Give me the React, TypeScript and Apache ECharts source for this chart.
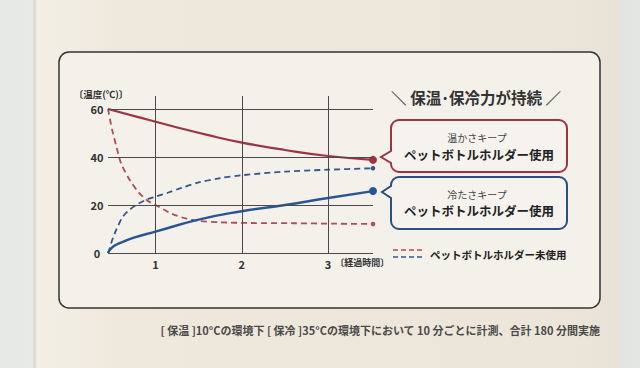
import React, { useEffect, useRef } from 'react';
import * as echarts from 'echarts';

// Axis ticks (x: elapsed hours, y: temperature °C)
const xTicks = [1, 2, 3];
const yTicks = [0, 20, 40, 60];
const X_MIN = 0.45;
const X_MAX = 3.52;
const Y_MAX = 65.4;

// [hours, °C]
const warmWithHolder: [number, number][] = [
  [0.45, 60], [0.8, 56.6], [1.2, 52.8], [1.6, 49.2], [2.0, 46.0], [2.5, 42.9],
  [3.0, 40.4], [3.52, 38.8],
];
const coldWithHolder: [number, number][] = [
  [0.45, 0], [0.5, 2.4], [0.6, 4.3], [0.75, 6.4], [1.0, 8.9],
  [1.5, 13.9], [2.0, 17.4], [2.5, 20.0], [3.0, 22.9], [3.52, 25.8],
];
const warmNoHolder: [number, number][] = [
  [0.45, 60], [0.5, 51], [0.55, 44], [0.6, 37.5], [0.7, 30.5], [0.8, 25.5],
  [0.9, 22], [1.0, 20], [1.1, 18], [1.2, 16.2], [1.35, 14.4], [1.5, 13.4],
  [1.75, 12.8], [2.1, 12.5], [2.6, 12.4], [3.1, 12.2], [3.52, 12.1],
];
const coldNoHolder: [number, number][] = [
  [0.45, 0], [0.47, 2], [0.5, 5.5], [0.55, 10], [0.62, 15], [0.7, 18],
  [0.8, 20.5], [0.9, 22.3], [1.0, 23.5], [1.15, 25.2], [1.3, 27.1], [1.5, 29.4],
  [1.75, 31.2], [2.0, 32.4], [2.5, 33.9], [3.0, 34.7], [3.52, 35.3],
];

const TITLE = '＼ 保温･保冷力が持続 ／';
const WARM_LABEL = '温かさキープ';
const COLD_LABEL = '冷たさキープ';
const HOLDER_LABEL = 'ペットボトルホルダー使用';
const NO_HOLDER_LABEL = 'ペットボトルホルダー未使用';
const Y_NAME = '〔温度(℃)〕';
const X_NAME = '〔経過時間〕';
const NOTE = '[ 保温 ]10°Cの環境下 [ 保冷 ]35°Cの環境下において 10 分ごとに計測、合計 180 分間実施';

const RED = '#9e3346';
const BLUE = '#2a5595';
const RED_D = '#b04c58';
const BLUE_D = '#34568e';
const FONT = '"Noto Sans CJK JP", "Noto Sans", sans-serif';

let registered = false;
function registerShapes() {
  if (registered) return;
  registered = true;
  const warm = 'M8 0 H168 A8 8 0 0 1 176 8 V44 A8 8 0 0 1 168 52 H8 A8 8 0 0 1 0 44 V43 L-10 37 L0 31 V8 A8 8 0 0 1 8 0 Z';
  const cold = 'M8 0 H168 A8 8 0 0 1 176 8 V44 A8 8 0 0 1 168 52 H8 A8 8 0 0 1 0 44 V21 L-9 15 L0 9 V8 A8 8 0 0 1 8 0 Z';
  echarts.graphic.registerShape('bubbleWarm', echarts.graphic.extendPath(warm, {}));
  echarts.graphic.registerShape('bubbleCold', echarts.graphic.extendPath(cold, {}));
}

function txt(x: number, y: number, text: string, size: number, weight: string, color: string, align = 'center') {
  return {
    type: 'text', x, y,
    style: {
      text, fontSize: size, fontWeight: weight, fontFamily: FONT, fill: color,
      align, textAlign: align, verticalAlign: 'middle', textVerticalAlign: 'middle',
    },
  };
}

function lineSeries(name: string, data: [number, number][], color: string, width: number, dashed: boolean, dot: number) {
  const last = data.length - 1;
  return {
    name, type: 'line', data, smooth: dashed ? 0.3 : 0.5,
    symbol: 'circle', showAllSymbol: true,
    symbolSize: (_v: any, p: any) => (p.dataIndex === last ? dot : 0),
    itemStyle: { color },
    lineStyle: { color, width, type: dashed ? [6, 4] : 'solid' },
    z: dashed ? 3 : 4,
  };
}

export default function App() {
  const ref = useRef<HTMLDivElement>(null);
  useEffect(() => {
    registerShapes();
    const chart = echarts.init(ref.current!, undefined, { renderer: 'svg' });
    const gridLines: any[] = [];
    xTicks.forEach((t) => gridLines.push([{ coord: [t, 0] }, { coord: [t, Y_MAX] }]));
    yTicks.forEach((t) => gridLines.push([{ coord: [X_MIN, t] }, { coord: [X_MAX, t] }]));

    chart.setOption({
      animation: false,
      grid: { left: 108, right: 267, top: 96, bottom: 115, outerBoundsMode: 'none' },
      xAxis: {
        type: 'value', min: X_MIN, max: X_MAX,
        axisLine: { show: false }, axisTick: { show: false }, splitLine: { show: false },
        axisLabel: {
          customValues: xTicks, margin: 5, color: '#333', fontSize: 11, fontWeight: 'bold', fontFamily: FONT,
        },
        name: X_NAME, nameLocation: 'end', nameGap: -40,
        nameTextStyle: { color: '#333', fontSize: 9, fontWeight: 'bold', fontFamily: FONT, verticalAlign: 'top', align: 'left', padding: [5, 0, 0, 0] },
      },
      yAxis: {
        type: 'value', min: 0, max: Y_MAX,
        axisLine: { show: false }, axisTick: { show: false }, splitLine: { show: false },
        axisLabel: {
          customValues: yTicks, margin: 11, align: 'center', color: '#333', fontSize: 11, fontWeight: 'bold', fontFamily: FONT,
        },
        name: Y_NAME, nameLocation: 'end', nameGap: 2,
        nameTextStyle: { color: '#333', fontSize: 9.5, fontWeight: 'bold', fontFamily: FONT, verticalAlign: 'middle', align: 'center', padding: [0, 14, 0, 0] },
      },
      series: [
        {
          name: 'grid', type: 'line', data: [], silent: true, z: 1,
          markLine: {
            silent: true, symbol: ['none', 'none'], label: { show: false },
            lineStyle: { color: '#4a4a4a', width: 1, type: 'solid' },
            emphasis: { disabled: true },
            data: gridLines,
          },
        },
        lineSeries('保温・ホルダー未使用', warmNoHolder, RED_D, 1.8, true, 4.5),
        lineSeries('保冷・ホルダー未使用', coldNoHolder, BLUE_D, 1.8, true, 4.5),
        lineSeries('保温・ホルダー使用', warmWithHolder, RED, 2.2, false, 8),
        lineSeries('保冷・ホルダー使用', coldWithHolder, BLUE, 2.4, false, 8),
      ],
      graphic: [
        {
          type: 'rect', z: -10,
          shape: { x: 59, y: 52, width: 541, height: 256, r: 10 },
          style: { fill: '#f4f1eb', stroke: '#333', lineWidth: 1.5 },
        },
        txt(476, 97, TITLE, 15.5, 'bold', '#333'),
        { type: 'bubbleWarm', x: 391, y: 120, style: { fill: '#f6f3ef', stroke: RED, lineWidth: 2 } },
        txt(477, 137, WARM_LABEL, 10, 'normal', '#444'),
        txt(479, 154, HOLDER_LABEL, 12.5, 'bold', '#222'),
        { type: 'bubbleCold', x: 391, y: 177, style: { fill: '#f6f3ef', stroke: '#2f4d85', lineWidth: 2 } },
        txt(477, 194, COLD_LABEL, 10, 'normal', '#444'),
        txt(479, 210.5, HOLDER_LABEL, 12.5, 'bold', '#222'),
        { type: 'line', shape: { x1: 393, y1: 250, x2: 424, y2: 250 }, style: { stroke: RED_D, lineWidth: 1.6, lineDash: [5, 3] } },
        { type: 'line', shape: { x1: 393, y1: 257, x2: 424, y2: 257 }, style: { stroke: BLUE_D, lineWidth: 1.6, lineDash: [5, 3] } },
        txt(430, 254, NO_HOLDER_LABEL, 10.5, 'bold', '#222', 'left'),
        txt(600, 330, NOTE, 11, 'bold', '#4a4a4a', 'right'),
      ],
    });
    return () => chart.dispose();
  }, []);

  return (
    <div
      ref={ref}
      style={{
        position: 'fixed', left: 0, top: 0, width: 640, height: 368,
        background:
          'linear-gradient(to right, #e6e8e6 0px, #e8eae8 33px, #d8d4cc 34px, #f3efe6 37px, #efe9dd 120px, #ece6da 560px, #e8e2d7 617px, #e2e4e2 619px, #e4e6e4 640px)',
      }}
    />
  );
}
